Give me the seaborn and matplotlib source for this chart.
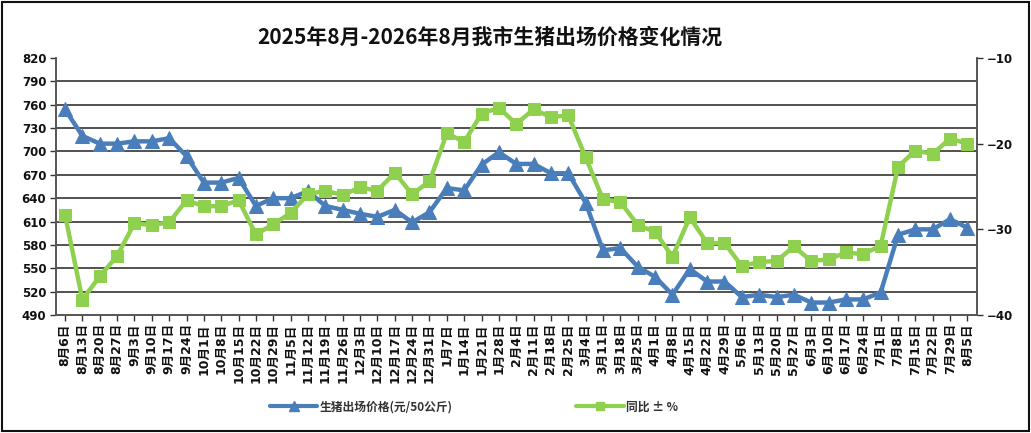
import numpy as np
import pandas as pd
import matplotlib
matplotlib.use('Agg')
import matplotlib.pyplot as plt
import seaborn as sns
from matplotlib.patches import Rectangle
from matplotlib.lines import Line2D

dates = ["8月6日", "8月13日", "8月20日", "8月27日", "9月3日", "9月10日", "9月17日", "9月24日",
         "10月1日", "10月8日", "10月15日", "10月22日", "10月29日", "11月5日", "11月12日", "11月19日",
         "11月26日", "12月3日", "12月10日", "12月17日", "12月24日", "12月31日", "1月7日", "1月14日",
         "1月21日", "1月28日", "2月4日", "2月11日", "2月18日", "2月25日", "3月4日", "3月11日",
         "3月18日", "3月25日", "4月1日", "4月8日", "4月15日", "4月22日", "4月29日", "5月6日",
         "5月13日", "5月20日", "5月27日", "6月3日", "6月10日", "6月17日", "6月24日", "7月1日",
         "7月8日", "7月15日", "7月22日", "7月29日", "8月5日"]

price = [754, 720, 710, 710, 713, 713, 717, 694,
         660, 660, 666, 630, 640, 640, 649, 630,
         625, 620, 616, 625, 609, 622, 653, 650,
         683, 699, 684, 684, 672, 672, 634, 573,
         576, 552, 539, 516, 549, 533, 533, 513,
         516, 513, 516, 506, 506, 510, 510, 519,
         593, 600, 600, 613, 602]

yoy = [-28.3, -38.2, -35.5, -33.1, -29.3, -29.5, -29.2, -26.6,
       -27.3, -27.3, -26.6, -30.6, -29.4, -28.1, -25.9, -25.5,
       -26.0, -25.1, -25.5, -23.4, -25.9, -24.4, -18.8, -19.8,
       -16.5, -15.8, -17.7, -16.0, -16.9, -16.7, -21.6, -26.5,
       -26.8, -29.5, -30.3, -33.2, -28.6, -31.6, -31.6, -34.3,
       -33.8, -33.7, -32.0, -33.7, -33.5, -32.7, -32.9, -31.9,
       -22.7, -20.8, -21.2, -19.4, -20.0]

left_ticks = list(range(490, 821, 30))
right_ticks = [-40, -30, -20, -10]

title = "2025年8月-2026年8月我市生猪出场价格变化情况"
label_price = "生猪出场价格(元/50公斤)"
label_yoy = "同比 ± %"

df = pd.DataFrame({"pos": np.arange(len(dates)), "date": dates, "price": price, "yoy": yoy})

sns.set_theme(style="white")
plt.rcParams['font.family'] = ['DejaVu Sans', 'Noto Sans CJK SC']

blue = "#4A7EBB"
green = "#8FD14F"

fig = plt.figure(figsize=(10.31, 4.33), dpi=100)
ax = fig.add_axes([56/1031, 1-315/433, (977-56)/1031, (315-58)/433])
ax2 = ax.twinx()

sns.lineplot(data=df, x="pos", y="price", ax=ax, color=blue, linewidth=3.2,
             marker="^", markersize=9.5, markeredgecolor=blue, legend=False)
sns.lineplot(data=df, x="pos", y="yoy", ax=ax2, color=green, linewidth=3.2,
             marker="s", markersize=8, markeredgecolor=green, legend=False)

ax.set_xlim(-0.52, len(dates) - 1 + 0.55)
ax.set_ylim(left_ticks[0], left_ticks[-1])
ax2.set_ylim(right_ticks[0], right_ticks[-1])
ax.set_yticks(left_ticks)
ax2.set_yticks(right_ticks)
ax.set_xticks(df["pos"])
ax.set_xticklabels(dates, rotation=90, fontsize=9, fontweight="bold", color="#111111",
                   va="top", ha="center")
ax.set_xlabel("")
ax.set_ylabel("")
ax2.set_ylabel("")

ax.tick_params(axis="x", length=4, width=1, color="#333333", pad=2, direction="out", bottom=True)
ax.tick_params(axis="y", left=True, direction="out")
ax2.tick_params(axis="y", right=True, direction="out")
for a in (ax, ax2):
    a.tick_params(axis="y", labelsize=8.5, length=4, width=1, color="#333333", pad=3)
    for lab in a.get_yticklabels():
        lab.set_fontweight("bold")
        lab.set_color("#111111")

ax.yaxis.grid(True, color="#222222", linewidth=1.1)
ax.set_axisbelow(True)
ax.get_ygridlines()[-1].set_visible(False)
ax.get_ygridlines()[0].set_visible(False)

for a in (ax, ax2):
    a.spines["top"].set_visible(False)
    for s in ("left", "right", "bottom"):
        a.spines[s].set_color("#555555")
        a.spines[s].set_linewidth(1.2)

fig.text(490/1031, 1-37/433, title, ha="center", va="center", fontsize=15,
         fontweight="bold", family=["Noto Sans CJK SC", "DejaVu Sans"], color="#111111")

handles = [Line2D([], [], color=blue, linewidth=3, marker="^", markersize=7),
           Line2D([], [], color=green, linewidth=3, marker="s", markersize=6)]
leg = fig.legend(handles, [label_price, label_yoy], loc="center", bbox_to_anchor=(474/1031, 1-407/433),
                 ncol=2, frameon=False, handlelength=4, handletextpad=0.2, columnspacing=10.5,
                 prop={"family": ["Noto Sans CJK SC", "DejaVu Sans"], "size": 8.5, "weight": "bold"})
for t in leg.get_texts():
    t.set_color("#333333")

fig.patches.append(Rectangle((0.002, 0.004), 0.996, 0.992, transform=fig.transFigure,
                             fill=False, edgecolor="#111111", linewidth=1.5))

fig.savefig("out.png", dpi=100)
